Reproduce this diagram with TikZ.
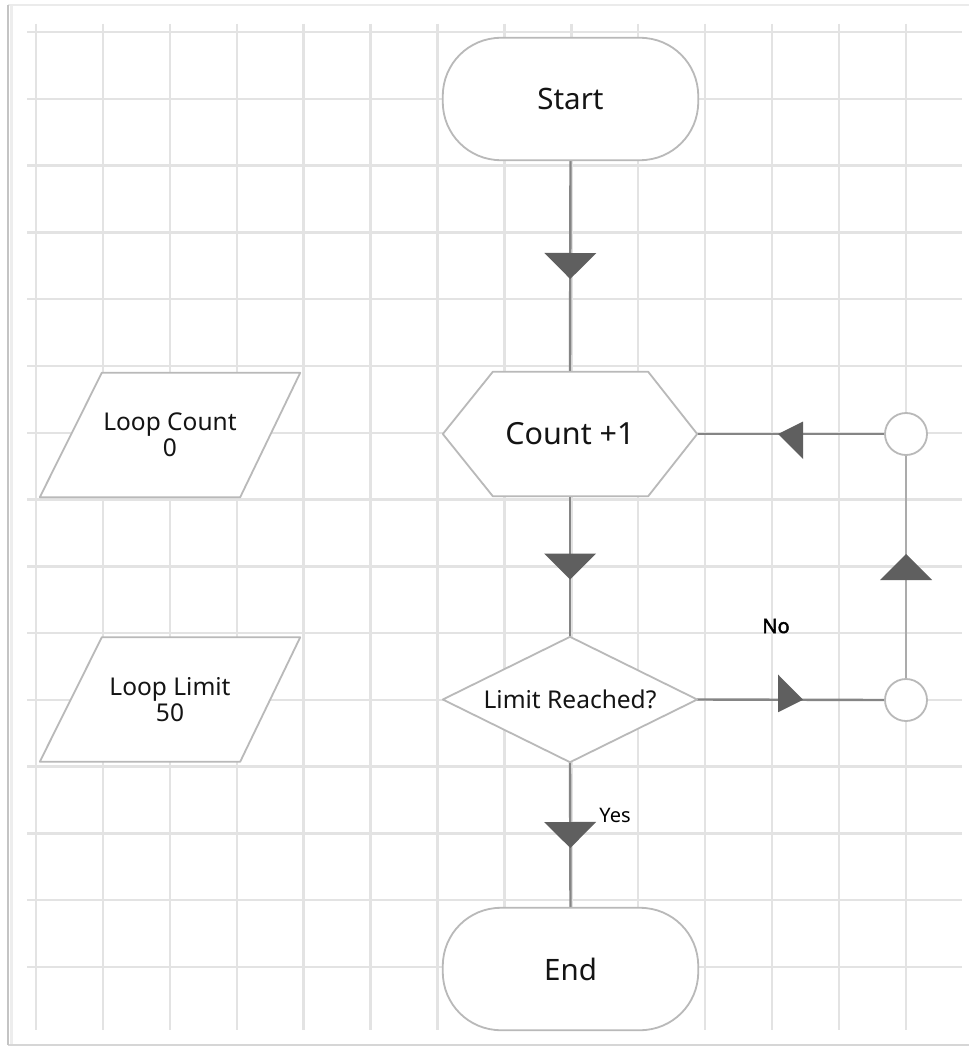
\documentclass[tikz,border=0pt]{standalone}
\usepackage{fontspec}
\setmainfont{Noto Sans}
\newfontfamily\strongfont{Noto Sans}[FakeBold=2.2]
\usetikzlibrary{calc,decorations.markings,backgrounds}

\definecolor{gridgray}{HTML}{E3E3E3}
\definecolor{shapegray}{HTML}{B9B9B9}
\definecolor{linegray}{HTML}{858585}
\definecolor{lightline}{HTML}{ABABAB}
\definecolor{headgray}{HTML}{5F5F5F}
\definecolor{framegray}{HTML}{C4C4C4}

\tikzset{
  gridline/.style={draw=gridgray, line width=2.4pt},
  outline/.style={draw=shapegray, line width=1.8pt, fill=white, line join=round},
  box/.style={rectangle, inner sep=0pt, text=black!92},
  terminal/.style={box, font=\fontsize{29.5}{34}\selectfont, minimum width=255pt, minimum height=122pt},
  hexbox/.style={box, font=\fontsize{30.5}{34}\selectfont, minimum width=254pt, minimum height=124pt},
  decbox/.style={box, font=\fontsize{24.5}{28}\selectfont, minimum width=254pt, minimum height=125pt},
  iobox/.style={box, align=center, font=\fontsize{24.5}{26}\selectfont, minimum width=260pt, minimum height=124pt},
  junction/.style={circle, draw=shapegray, line width=1.8pt, fill=white, minimum size=42pt, inner sep=0pt},
  vhead/.style={postaction={decorate}, decoration={markings,
      mark=at position 0.5 with {\fill[headgray] (13,0) -- (-13,26) -- (-13,-26) -- cycle;}}},
  hhead/.style={postaction={decorate}, decoration={markings,
      mark=at position 0.5 with {\fill[headgray] (12.5,0) -- (-12.5,12.5) -- (-12.5,-25) -- cycle;}}},
  flow/.style={draw=linegray, line width=2.4pt},
  flowlight/.style={draw=lightline, line width=2pt},
  tag/.style={inner sep=0pt, text=black}
}

\begin{document}
\begin{tikzpicture}[x=1pt,y=-1pt]
\useasboundingbox (0,0) rectangle (969,1048);

% nodes of the flowchart
\node[terminal] (start) at (570.5,99) {Start};
\node[hexbox] (count) at (570,434) {Count +1};
\node[decbox] (limit) at (570,699.5) {Limit Reached?};
\node[terminal] (end) at (570.5,969) {End};
\node[iobox] (lcount) at (170,435) {Loop Count\\0};
\node[iobox] (llimit) at (170,699.5) {Loop Limit\\50};
\node[junction] (j1) at (906,434) {};
\node[junction] (j2) at (906,700) {};

\begin{scope}[on background layer]
  % sheet and frame
  \fill[white] (0,0) rectangle (969,1048);
  \draw[draw=black!8, line width=2pt] (8,5) -- (969,5);
  \draw[draw=black!16, line width=2pt] (8,1045) -- (969,1045);
  \draw[draw=black!7, line width=3pt] (11,6) -- (11,1044);
  \draw[draw=framegray, line width=2pt] (8,5) -- (8,1045);

  % squared paper
  \foreach \i in {0,...,13}
    \draw[gridline] ({36+66.92*\i},24) -- ({36+66.92*\i},1030);
  \foreach \j in {0,...,14}
    \draw[gridline] (27,{32+66.79*\j}) -- (962,{32+66.79*\j});

  % connectors
  \draw[flow, vhead] (start.south) -- (count.north);
  \draw[flow, vhead] (count.south) -- (limit.north);
  \draw[flow, vhead] (limit.south) -- (end.north);
  \draw[flow, hhead] (limit.east) -- (j2.west);
  \draw[flowlight, vhead] (j2.north) -- (j1.south);
  \draw[flow, hhead] (j1.west) -- (count.east);

  % outlines
  \draw[outline, rounded corners=58pt] (start.south west) rectangle (start.north east);
  \draw[outline, rounded corners=58pt] (end.south west) rectangle (end.north east);
  \draw[outline] (count.west) -- ($(count.north west)+(50,0)$) -- ($(count.north east)+(-49,0)$)
    -- (count.east) -- ($(count.south east)+(-49,0)$) -- ($(count.south west)+(50,0)$) -- cycle;
  \draw[outline] (limit.west) -- (limit.north) -- (limit.east) -- (limit.south) -- cycle;
  \draw[outline] ($(lcount.north west)+(62,0)$) -- (lcount.north east)
    -- ($(lcount.south east)+(-60,0)$) -- (lcount.south west) -- cycle;
  \draw[outline] ($(llimit.north west)+(62,0)$) -- (llimit.north east)
    -- ($(llimit.south east)+(-60,0)$) -- (llimit.south west) -- cycle;
\end{scope}

% branch labels
\node[tag, font=\fontsize{20}{24}\selectfont] (yes) at (615,815) {Yes};
\node[tag, font=\fontsize{20}{22}\selectfont\strongfont] (no) at (776,626) {No};
\end{tikzpicture}
\end{document}
